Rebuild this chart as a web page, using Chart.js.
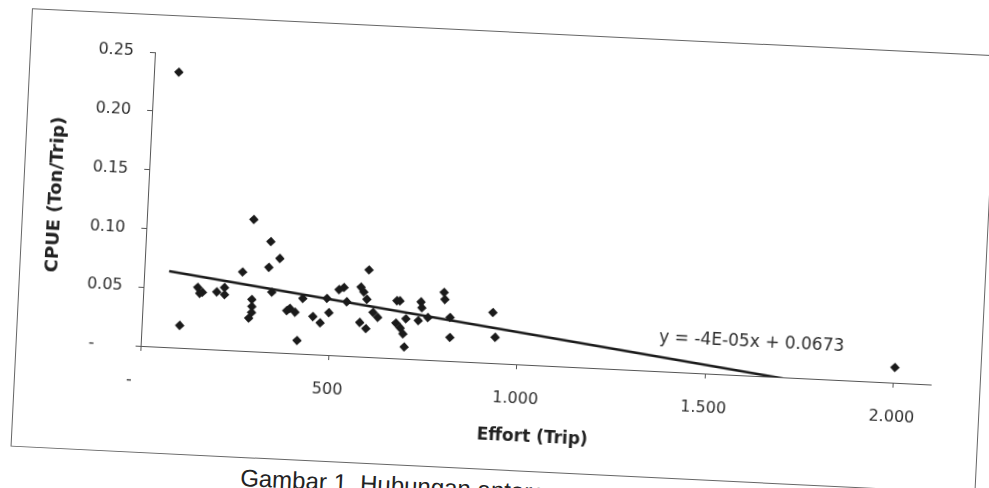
<!DOCTYPE html>
<html>
<head>
<meta charset="utf-8">
<script src="https://cdn.jsdelivr.net/npm/chart.js@4.4.0/dist/chart.umd.min.js"></script>
<style>
  html, body { margin: 0; padding: 0; width: 989px; height: 488px; overflow: hidden; background: #fff; }
  /* the scanned figure is slightly tilted */
  #page { position: absolute; left: 0; top: 0; width: 989px; height: 488px; transform: rotate(2.8deg); transform-origin: 494px 244px; }
  #frame { position: absolute; left: 21px; top: 31px; width: 964px; height: 437px; border: 1px solid #666; }
  #caption { position: absolute; left: 252px; top: 476px; font: 24px "Liberation Sans", Arial, sans-serif; color: #222; white-space: nowrap; }
</style>
</head>
<body>
<div id="page">
  <div id="frame"><canvas id="scatter-chart" width="964" height="437"></canvas></div>
  <div id="caption">Gambar 1. Hubungan antara</div>
</div>
<script>
// Effort (trip) and CPUE (ton/trip)
const effort = [66, 101, 144, 157, 150, 195, 215, 216, 261, 289, 290, 290, 283, 284,
  332, 358, 330, 341, 383, 391, 405, 414, 424, 453, 473, 488, 495, 519, 532, 541,
  577, 585, 594, 596, 578, 595, 612, 625, 674, 682, 674, 686, 694, 699, 700, 733,
  738, 741, 758, 798, 801, 817, 819, 930, 939, 2003];
const cpue = [0.234, 0.019, 0.052, 0.048, 0.047, 0.049, 0.053, 0.047, 0.067, 0.044,
  0.038, 0.033, 0.028, 0.112, 0.094, 0.080, 0.072, 0.051, 0.036, 0.038, 0.035, 0.011,
  0.047, 0.032, 0.027, 0.048, 0.036, 0.056, 0.058, 0.046, 0.059, 0.055, 0.049, 0.074,
  0.029, 0.024, 0.038, 0.034, 0.049, 0.049, 0.030, 0.026, 0.021, 0.010, 0.034, 0.033,
  0.049, 0.044, 0.036, 0.058, 0.052, 0.037, 0.020, 0.043, 0.022, 0.013];

const xTicks = [0, 500, 1000, 1500, 2000];
const yTicks = [0, 0.05, 0.10, 0.15, 0.20, 0.25];

// linear trend shown on the figure
const slope = -0.00004;
const intercept = 0.0673;
const eqText = "y = -4E-05x + 0.0673";
const eqAt = [1620, 0.028];

const xMin = Math.min(...effort);
const xMax = Math.max(...effort);
const trend = [
  { x: xMin, y: slope * xMin + intercept },
  { x: xMax, y: slope * xMax + intercept }
];

const ink = "#1a1a1a";
const txt = "#2e2e2e";

function thousands(v) {
  return String(v).replace(/\B(?=(\d{3})+(?!\d))/g, ".");
}

const eqLabel = {
  id: "eqLabel",
  afterDatasetsDraw(chart) {
    const { ctx, scales: { x, y } } = chart;
    ctx.save();
    ctx.font = '17px "DejaVu Sans"';
    ctx.fillStyle = txt;
    ctx.textAlign = "center";
    ctx.textBaseline = "middle";
    ctx.fillText(eqText, x.getPixelForValue(eqAt[0]), y.getPixelForValue(eqAt[1]));
    ctx.restore();
  }
};

new Chart(document.getElementById("scatter-chart"), {
  type: "scatter",
  data: {
    datasets: [
      {
        data: effort.map((e, i) => ({ x: e, y: cpue[i] })),
        pointStyle: "rectRot",
        pointRadius: 4.8,
        backgroundColor: ink,
        borderColor: ink,
        borderWidth: 0
      },
      {
        data: trend,
        showLine: true,
        pointRadius: 0,
        borderColor: ink,
        borderWidth: 2.5
      }
    ]
  },
  options: {
    responsive: false,
    animation: false,
    events: [],
    layout: { padding: { top: 37, right: 49, bottom: 0, left: 0 } },
    plugins: { legend: { display: false }, tooltip: { enabled: false } },
    scales: {
      x: {
        type: "linear",
        min: 0,
        max: 2100,
        afterBuildTicks: s => { s.ticks = xTicks.map(v => ({ value: v })); },
        afterFit: s => { s.height = 106; },
        grid: { drawOnChartArea: false, tickLength: 5, color: "#555" },
        border: { color: "#555", width: 1 },
        ticks: {
          padding: 20,
          color: txt,
          font: { family: "DejaVu Sans", size: 16 },
          maxRotation: 0,
          callback: v => (v === 0 ? "-    " : thousands(v))
        },
        title: {
          display: true,
          text: "Effort (Trip)",
          color: "#222",
          font: { family: "DejaVu Sans", size: 17, weight: "bold" },
          padding: { top: 0, bottom: 23 }
        }
      },
      y: {
        min: 0,
        max: 0.25,
        afterBuildTicks: s => { s.ticks = yTicks.map(v => ({ value: v })); },
        afterFit: s => { s.width = 124; },
        grid: { drawOnChartArea: false, tickLength: 5, color: "#555" },
        border: { color: "#555", width: 1 },
        ticks: {
          padding: 16,
          color: txt,
          font: { family: "DejaVu Sans", size: 16 },
          callback: v => (v === 0 ? "-     " : v.toFixed(2))
        },
        title: {
          display: true,
          text: "CPUE (Ton/Trip)",
          color: "#222",
          font: { family: "DejaVu Sans", size: 18, weight: "bold" },
          padding: { top: 22, bottom: 0 }
        }
      }
    }
  },
  plugins: [eqLabel]
});
</script>
</body>
</html>
